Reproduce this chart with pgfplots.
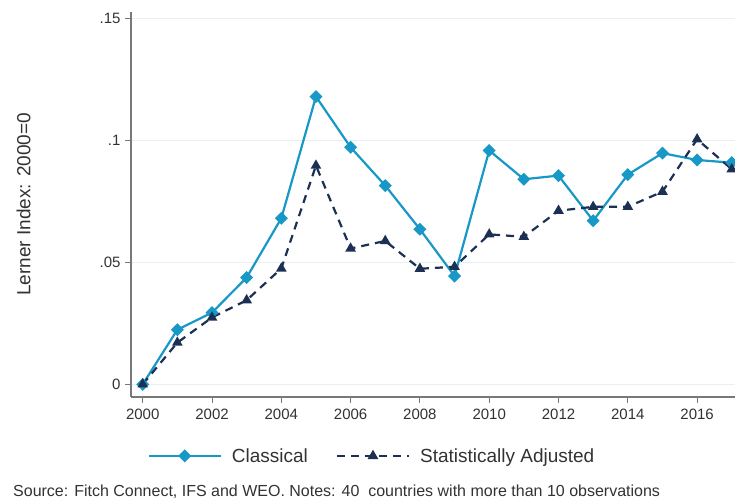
\documentclass[border=0pt]{standalone}
\usepackage{pgfplots}
\pgfplotsset{compat=1.18}
\usepackage{fontspec}
\setmainfont{Liberation Sans}
\definecolor{classic}{RGB}{24,152,198}
\definecolor{adjusted}{RGB}{28,48,84}
\definecolor{gridc}{RGB}{232,241,242}
\definecolor{axisc}{RGB}{120,120,120}
\definecolor{textc}{RGB}{50,50,50}
\pgfplotstableread{
year cl adj
2000 0.0000 0.0000
2001 0.0224 0.0171
2002 0.0294 0.0274
2003 0.0438 0.0345
2004 0.0681 0.0475
2005 0.1180 0.0897
2006 0.0972 0.0557
2007 0.0815 0.0588
2008 0.0636 0.0474
2009 0.0444 0.0482
2010 0.0959 0.0615
2011 0.0841 0.0605
2012 0.0856 0.0712
2013 0.0671 0.0728
2014 0.0860 0.0728
2015 0.0948 0.0790
2016 0.0920 0.1005
2017 0.0909 0.0882
}\data
\begin{document}
\begin{tikzpicture}[x=1pt,y=1pt]
\begin{axis}[
  at={(131pt,105pt)}, anchor=south west,
  scale only axis, width=604pt, height=385pt,
  xmin=1999.662, xmax=2017.094,
  ymin=-0.0052, ymax=0.1527,
  axis x line*=bottom, axis y line*=left,
  x axis line style={-, axisc, line width=1.2pt},
  y axis line style={-, axisc, line width=1.2pt},
  xtick={2000,2002,...,2016},
  xticklabels={2000,2002,2004,2006,2008,2010,2012,2014,2016},
  ytick={0,0.05,0.1,0.15},
  yticklabels={0,.05,.1,.15},
  tick align=outside, major tick length=6pt,
  tick style={axisc, line width=1pt},
  ymajorgrids, grid style={gridc, line width=1pt},
  ticklabel style={font=\fontsize{15}{17}\selectfont, text=textc},
  xticklabel style={yshift=-2pt},
  yticklabel style={xshift=-1pt},
  ylabel={Lerner Index: 2000=0},
  ylabel style={at={(axis description cs:-0.178,0.5)}, anchor=center, font=\fontsize{19}{21}\selectfont, text=textc},
  clip=false,
  legend columns=2,
  legend style={at={(axis description cs:0.399,-0.153)}, anchor=center, draw=none, fill=none,
    font=\fontsize{19}{21}\selectfont, text=textc,
    /tikz/every odd column/.append style={column sep=8pt},
    /tikz/every even column/.append style={column sep=26pt}},
  legend image code/.code={\draw[mark repeat=2,mark phase=2,#1] plot coordinates {(0pt,0pt) (36pt,0pt) (72pt,0pt)};},
]
\addplot[classic, line width=2.2pt, mark=square*, mark size=3.5pt, mark options={solid, rotate=45}] table[x=year,y=cl]{\data};
\addlegendentry{Classical}
\addplot[adjusted, line width=2.2pt, dash pattern=on 8pt off 6pt, mark=triangle*, mark size=4pt, mark options={solid}] table[x=year,y=adj]{\data};
\addlegendentry{Statistically Adjusted}
\end{axis}
\node[anchor=base west, inner sep=0pt, text=textc, font=\fontsize{16}{18}\selectfont] at (13pt,5pt) {Source: Fitch Connect, IFS and WEO. Notes: 40~ countries with more than 10 observations};
\pgfresetboundingbox
\path[use as bounding box] (0,0) rectangle (735pt,502pt);
\end{tikzpicture}
\end{document}
